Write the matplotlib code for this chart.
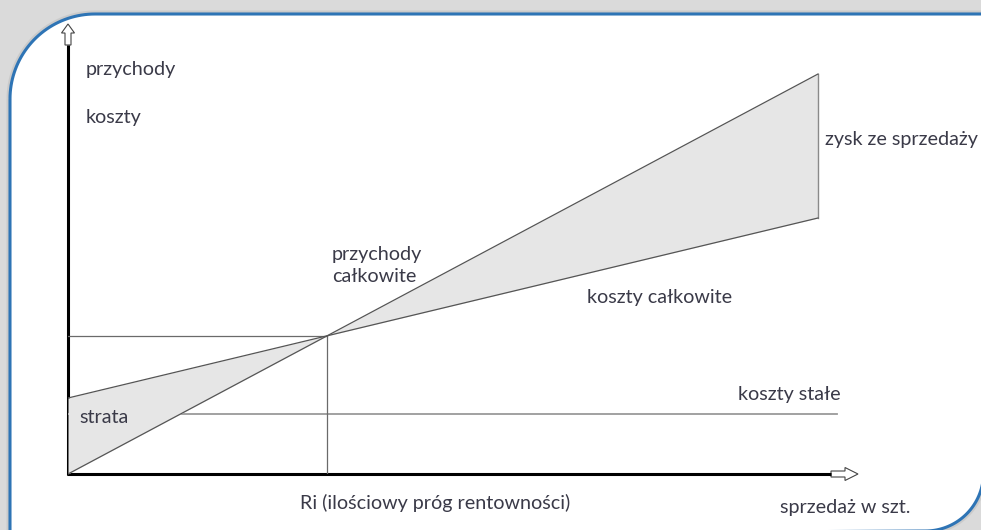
import numpy as np
import matplotlib
matplotlib.use('Agg')
import matplotlib.pyplot as plt
from matplotlib.path import Path
from matplotlib.patches import PathPatch, Polygon

plt.rcParams['font.family'] = ['Lato', 'DejaVu Sans']

# wielkość sprzedaży (szt.) i wartości w tych samych jednostkach umownych
sales = [0, 100]
revenue = [0, 100]
total_cost = [19, 64]
fixed_cost = 15
fixed_cost_span = [0, 102.5]

# próg rentowności z przecięcia prostych przychodów i kosztów
rev_slope = (revenue[1] - revenue[0]) / (sales[1] - sales[0])
cost_slope = (total_cost[1] - total_cost[0]) / (sales[1] - sales[0])
be_q = (total_cost[0] - revenue[0]) / (rev_slope - cost_slope)
be_v = revenue[0] + rev_slope * be_q

W, H = 981, 530
fig = plt.figure(figsize=(W / 100, H / 100), dpi=100)
fig.patch.set_facecolor('#dadada')

# tło z ramką (zaokrąglone dwa przeciwległe narożniki)
bg = fig.add_axes([0, 0, 1, 1])
bg.set_xlim(0, W)
bg.set_ylim(H, 0)
bg.axis('off')

x0, y0, x1, y1 = 10, 14, 983.5, 531
r1, r2 = 85, 58
t1 = np.linspace(np.pi, 1.5 * np.pi, 40)
t2 = np.linspace(0, 0.5 * np.pi, 40)
verts = [(x0 + r1 + r1 * np.cos(t), y0 + r1 + r1 * np.sin(t)) for t in t1]
verts += [(x1, y0)]
verts += [(x1 - r2 + r2 * np.cos(t), y1 - r2 + r2 * np.sin(t)) for t in t2]
verts += [(x0, y1 + 5), verts[0]]
frame = Path(verts)
bg.add_patch(PathPatch(frame, fc='none', ec='#a8a8a8', lw=5, alpha=0.3))
bg.add_patch(PathPatch(frame, fc='white', ec='#2e74b5', lw=2.2))

# osie z pustymi strzałkami
ox, oy = 68, 474
bg.plot([ox, ox], [oy + 1, 45], color='black', lw=2.2, solid_capstyle='butt')
bg.plot([ox - 1, 831], [oy, oy], color='black', lw=2.2, solid_capstyle='butt')
bg.add_patch(Polygon([(ox - 3, 45), (ox - 3, 33), (ox - 6.5, 33), (ox, 24),
                      (ox + 6.5, 33), (ox + 3, 33), (ox + 3, 45)],
                     closed=True, fc='white', ec='#444444', lw=0.8))
bg.add_patch(Polygon([(831, oy - 3), (845, oy - 3), (845, oy - 6.5), (858, oy),
                      (845, oy + 6.5), (845, oy + 3), (831, oy + 3)],
                     closed=True, fc='white', ec='#444444', lw=0.8))

# wykres w jednostkach umownych: 7.5 px na sztukę, 4 px na jednostkę wartości
ax = fig.add_axes([ox / W, (H - oy) / H, 800 / W, 450 / H])
ax.set_xlim(0, 800 / 7.5)
ax.set_ylim(0, 450 / 4)
ax.axis('off')
ax.patch.set_alpha(0)

ax.plot(fixed_cost_span, [fixed_cost, fixed_cost], color='#9a9a9a', lw=1.3, zorder=1)
ax.fill_between(sales, revenue, total_cost, color='#e6e6e6', lw=0, zorder=2)
ax.plot([0, be_q], [be_v, be_v], color='#6a6a6a', lw=0.9, zorder=3)
ax.plot([be_q, be_q], [0, be_v], color='#6a6a6a', lw=0.9, zorder=3)
ax.plot([sales[-1], sales[-1]], [total_cost[-1], revenue[-1]], color='#8a8a8a', lw=1.0, zorder=3)
ax.plot(sales, revenue, color='#555555', lw=0.9, zorder=4)
ax.plot(sales, total_cost, color='#555555', lw=0.9, zorder=4)

txt = dict(fontsize=14.2, color='#3a3a48', va='center', ha='left', clip_on=False)
ax.text(2.4, 101, 'przychody', **txt)
ax.text(2.4, 89, 'koszty', **txt)
ax.text(100.9, 83.7, 'zysk ze sprzedaży', **txt)
ax.text(35.2, 52.1, 'przychody\ncałkowite', linespacing=1.4, **txt)
ax.text(69.2, 44, 'koszty całkowite', **txt)
ax.text(89.3, 19.8, 'koszty stałe', **txt)
ax.text(1.5, 14.2, 'strata', **txt)
ax.text(30.9, -7.3, 'Ri (ilościowy próg rentowności)', **txt)
ax.text(94.9, -8.3, 'sprzedaż w szt.', **txt)

fig.savefig('out.png', dpi=100, facecolor=fig.get_facecolor())
